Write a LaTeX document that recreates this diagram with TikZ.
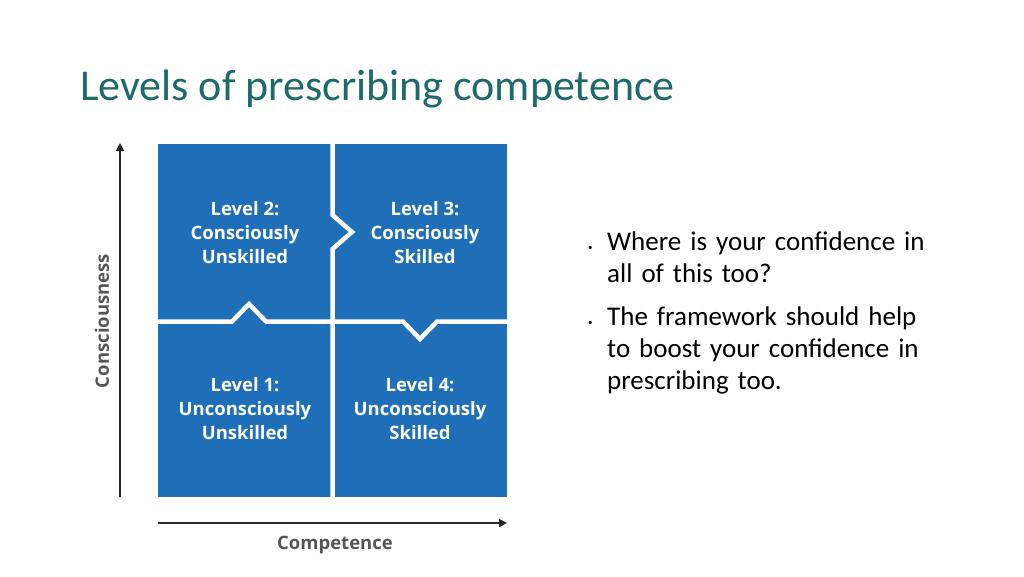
\documentclass[tikz,border=0pt]{standalone}
\usepackage{fontspec}
\setmainfont{Carlito}
\newfontfamily\boxfont{Open Sans}
\usetikzlibrary{positioning, arrows.meta}
\definecolor{quadblue}{HTML}{1F6EB8}
\definecolor{titleteal}{HTML}{1D6A6A}
\definecolor{axisgray}{HTML}{555555}
\begin{document}
\begin{tikzpicture}
    [
        x=1pt, y=-1pt,
        level_text/.style={text=white, align=center, font=\boxfont\bfseries\fontsize{18.5}{24}\selectfont},
        axis_line/.style={-{Triangle[length=8pt, width=8pt]}, line width=2pt, color=black!85},
        axis_text/.style={text=axisgray, font=\boxfont\bfseries\fontsize{18.5}{20}\selectfont},
        gap_line/.style={white, line width=4.5pt},
    ]
        \useasboundingbox (0,0) rectangle (1024,576);
        \node[anchor=base west, text=titleteal, font=\fontsize{44}{48}\selectfont, inner sep=0] (title) at (80,100) {Levels of prescribing competence};
        % quadrants
        \fill[quadblue] (158,144) rectangle (507,497);
        \draw[gap_line] (332.5,144) -- (332.5,215) -- (352,232) -- (332.5,249) -- (332.5,497);
        \draw[gap_line] (158,321.5) -- (232,321.5) -- (249,304) -- (266,321.5) -- (403,321.5) -- (420,339) -- (437,321.5) -- (507,321.5);
        \node[level_text] (lvl2) at (245,233) {Level 2:\\Consciously\\Unskilled};
        \node[level_text] (lvl3) at (425,233) {Level 3:\\Consciously\\Skilled};
        \node[level_text] (lvl1) at (245,409) {Level 1:\\Unconsciously\\Unskilled};
        \node[level_text] (lvl4) at (420,409) {Level 4:\\Unconsciously\\Skilled};
        % axes
        \coordinate (origin_y) at (120,497);
        \coordinate (top_y) at (120,143);
        \coordinate (origin_x) at (158,523);
        \coordinate (end_x) at (507,523);
        \draw[axis_line] (origin_y) -- (top_y);
        \draw[axis_line] (origin_x) -- (end_x);
        \node[axis_text, rotate=90] (consc) at (102,321) {Consciousness};
        \node[axis_text] (comp) at (335,545) {Competence};
        % bullets
        \node[anchor=north west, align=left, text width=400pt, inner sep=0, font=\fontsize{27}{32}\selectfont] (bullets) at (588,232)
        {\makebox[19pt][l]{\small•}Where is your confidence in\\\hspace*{19pt}all of this too?\\[11pt]
         \makebox[19pt][l]{\small•}The framework should help\\\hspace*{19pt}to boost your confidence in\\\hspace*{19pt}prescribing too.};
    \end{tikzpicture}
\end{document}
